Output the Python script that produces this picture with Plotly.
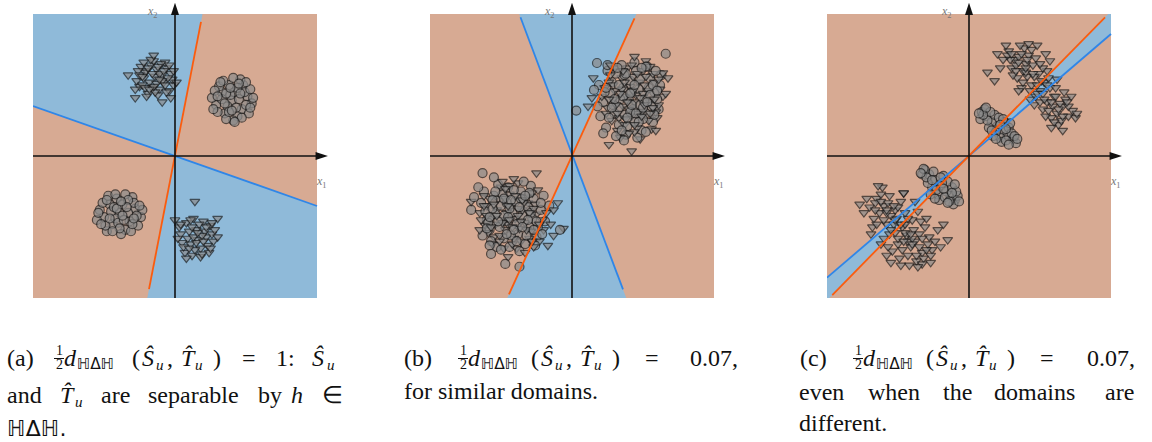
import plotly.graph_objects as go

W, H = 1152, 442

# ---------------- data (each feature box spans [-100, 100] on both axes) ----------------
# (a) four well separated groups
A_TRI_UL = [(-14,56),(-20,60),(-8,52),(-25,49),(-3,58),(-17,64),(-11,47),(-22,55),(-6,62),(-15,67),
            (-27,53),(-1,50),(-19,44),(-9,57),(-13,61),(-24,63),(-4,46),(-18,52),(-12,43),(-21,59),
            (-7,66),(-16,48),(-26,60),(-2,54),(-10,65),(-23,50),(-14,45),(-5,55),(-20,42),(-11,58),
            (-17,68),(-8,60),(-25,57),(-13,51),(-19,62),(-6,45),(-15,49),(-22,66),(-9,53),(-12,63),
            (-28,47),(-33,57),(-15,71),(-9,38),(-3,41),(-28,41),(1,52),(-16,58),(-4,64),(-21,48),
            (-11,54),(-18,47),(-7,50),(-23,56),(-1,60)]
A_CIR_UR = [(40,39),(33,45),(47,33),(29,36),(51,42),(38,50),(44,28),(35,30),(54,37),(31,49),
            (42,45),(48,50),(26,41),(37,35),(45,40),(52,30),(34,53),(41,25),(49,45),(30,31),
            (39,43),(46,54),(28,46),(53,47),(36,26),(43,34),(50,36),(33,40),(41,55),(47,27),
            (27,33),(38,31),(55,41),(32,52),(44,48),(36,44),(50,52),(40,32),(30,42),(46,44),
            (35,37),(42,24),(53,34),(39,48),(45,51)]
A_CIR_LL = [(-39,-40),(-46,-34),(-32,-46),(-50,-43),(-28,-37),(-41,-30),(-35,-52),(-53,-38),(-24,-43),(-44,-48),
            (-37,-34),(-30,-29),(-48,-53),(-42,-44),(-26,-49),(-55,-45),(-33,-40),(-47,-28),(-38,-55),(-29,-33),
            (-51,-33),(-40,-47),(-23,-38),(-45,-39),(-35,-27),(-31,-53),(-49,-49),(-43,-36),(-36,-45),(-27,-42),
            (-54,-40),(-39,-51),(-33,-31),(-46,-44),(-41,-37),(-30,-48),(-48,-31),(-37,-42),(-44,-53),(-25,-35),
            (-34,-36),(-42,-27),(-52,-48),(-38,-32),(-29,-44)]
A_TRI_LR = [(15,-52),(8,-47),(22,-57),(11,-62),(25,-49),(4,-55),(18,-65),(13,-44),(27,-60),(7,-68),
            (20,-46),(10,-53),(24,-68),(16,-59),(5,-61),(21,-53),(12,-70),(26,-55),(9,-58),(17,-48),
            (3,-50),(23,-63),(14,-66),(19,-56),(6,-64),(28,-52),(11,-45),(15,-61),(22,-50),(8,-72),
            (18,-71),(13,-57),(25,-65),(4,-48),(20,-60),(10,-65),(16,-54),(14,-32),(0,-45),(30,-44),
            (30,-57),(2,-58),(19,-69),(12,-50),(26,-47)]

# (b) two mixed groups
B_UR_CIR = [(40,40),(28,52),(52,30),(33,22),(58,45),(45,60),(22,38),(36,48),(49,18),(61,33),
            (30,30),(43,33),(55,55),(25,60),(38,15),(47,47),(20,28),(62,50),(34,40),(51,40),
            (27,44),(44,24),(57,24),(31,58),(41,53),(53,63),(24,20),(37,29),(48,54),(60,40),
            (29,36),(46,13),(35,64),(56,35),(42,45),(19,50),(50,26),(33,34),(63,57),(39,21),
            (26,27),(54,48),(44,66),(31,14),(58,29),(37,57),(48,36),(23,45),(52,17),(41,31),
            (3,32),(17.6,65.5),(66,72),(36.6,11),(22,16),(15.5,46.5),(25,64),(52,63),(59,60),(18,35),
            (36,42),(44,50),(50,34),(30,40),(42,36),(55,43),(38,58),(47,24),(33,50),(53,38),
            (28,34),(45,30),(39,27),(57,50),(24,48),(49,62),(35,18),(60,46),(41,44),(32,62)]
B_UR_TRI = [(38,42),(47,52),(30,46),(55,38),(42,28),(25,34),(50,60),(35,55),(60,27),(44,38),
            (28,25),(53,46),(39,62),(58,52),(32,18),(46,20),(21,42),(64,42),(36,35),(49,31),
            (26,52),(41,49),(56,19),(33,27),(52,67),(45,43),(24,30),(61,36),(37,22),(30,62),
            (48,12),(43,56),(57,58),(29,40),(40,33),(54,25),(35,47),(62,47),(27,57),(46,30),
            (34,13),(51,50),(23,48),(59,31),(42,64),(38,26),(50,44),(31,36),(55,63),(44,17),
            (67.6,55),(64,58.5),(42,3.5),(59,18),(11.3,35),(15,55),(44,70),(66,44),(14,41),(26,8),
            (43,46),(34,44),(51,36),(29,50),(46,58),(39,38),(55,30),(26,40),(48,41),(36,60),
            (58,40),(32,30),(44,22),(52,56),(40,16),(61,54),(27,64),(37,52),(49,28),(57,34)]
B_LL_CIR = [(-42,-40),(-55,-28),(-30,-50),(-60,-45),(-36,-25),(-48,-58),(-22,-38),(-50,-35),(-38,-55),(-64,-33),
            (-27,-30),(-45,-22),(-33,-62),(-58,-52),(-19,-46),(-40,-32),(-52,-20),(-25,-57),(-47,-46),(-35,-42),
            (-62,-25),(-29,-21),(-44,-64),(-54,-41),(-20,-28),(-39,-48),(-57,-60),(-31,-36),(-49,-27),(-24,-50),
            (-43,-56),(-61,-39),(-34,-18),(-51,-50),(-28,-44),(-46,-33),(-37,-67),(-16,-35),(-56,-31),(-41,-24),
            (-32,-56),(-53,-64),(-26,-63),(-59,-47),(-44,-37),(-21,-55),(-48,-42),(-36,-30),(-63,-56),(-30,-26),
            (-63,-12),(-55,-15),(-71,-38),(-66,-22),(-58,-63),(-57,-69),(-47,-76),(-37,-78),(-8.5,-52),(-69,-29),
            (-45,-43),(-37,-36),(-52,-46),(-29,-40),(-41,-52),(-56,-37),(-33,-28),(-48,-30),(-25,-46),(-60,-51),
            (-39,-60),(-46,-55),(-31,-45),(-54,-25),(-43,-31),(-22,-33),(-50,-66),(-35,-50),(-58,-43),(-27,-52)]
B_LL_TRI = [(-40,-44),(-53,-38),(-31,-33),(-47,-52),(-25,-41),(-58,-30),(-36,-60),(-44,-27),(-61,-49),(-20,-52),
            (-50,-22),(-33,-47),(-55,-57),(-28,-26),(-43,-35),(-38,-19),(-65,-40),(-23,-60),(-48,-65),(-35,-38),
            (-57,-44),(-30,-58),(-45,-48),(-18,-40),(-52,-30),(-41,-58),(-26,-34),(-60,-35),(-37,-51),(-49,-18),
            (-32,-29),(-54,-48),(-21,-45),(-46,-40),(-39,-65),(-62,-28),(-29,-53),(-44,-21),(-56,-62),(-34,-33),
            (-24,-24),(-51,-56),(-42,-50),(-15,-48),(-59,-54),(-33,-68),(-47,-30),(-27,-64),(-38,-37),(-64,-45),
            (-25,-12),(-10,-33),(-6,-51),(-13,-56),(-45,-71),(-71,-32),(-65,-52),(-17,-63),(-41,-16),(-13,-38),
            (-38,-42),(-49,-47),(-35,-31),(-44,-45),(-27,-37),(-55,-34),(-42,-62),(-32,-52),(-60,-42),(-47,-23),
            (-30,-40),(-51,-60),(-40,-28),(-57,-50),(-23,-48),(-45,-35),(-36,-46),(-62,-35),(-28,-60),(-53,-42)]

# (c) groups of different shape lying along the diagonal
C_TRI_UR = [(44,50),(32,68),(55,38),(38,60),(62,30),(28,74),(50,46),(41,56),(58,27),(35,70),
            (47,42),(66,35),(30,62),(53,52),(39,76),(60,42),(45,64),(70,28),(34,55),(57,48),
            (26,78),(49,58),(63,22),(37,48),(52,33),(42,71),(68,40),(31,57),(55,60),(46,36),
            (73,32),(40,65),(59,35),(36,78),(51,53),(65,25),(29,68),(48,44),(61,48),(44,75),
            (54,28),(38,52),(67,45),(33,64),(56,55),(75,27),(43,40),(58,20),(47,69),(64,37),
            (27,71),(52,62),(70,35),(40,59),(60,24),(35,46),(50,38),(72,42),(42,79),(62,54),
            (13,59),(18,53),(22,62),(24,68),(76,30),(66,18),(54,72),(48,78),(57,67),(20,72),
            (46,56),(52,44),(40,62),(58,38),(35,66),(63,33),(48,50),(43,46),(55,50),(37,72),
            (66,28),(50,65),(30,72),(61,42),(45,58),(56,32),(41,68),(69,38),(53,40),(33,60)]
C_CIR_UR = [(20,21),(12,28),(27,15),(16,24),(24,18),(9,31),(31,12),(18,29),(22,13),(14,20),
            (28,20),(11,33),(33,9),(19,17),(25,24),(8,26),(30,16),(15,31),(23,10),(17,14),
            (26,11),(13,25),(29,23),(21,27),(10,29),(32,14),(16,18),(24,26),(19,12),(28,8),
            (12,34),(34,12),(22,22),(7,30),(26,19)]
C_CIR_LL = [(-20,-21),(-28,-13),(-13,-28),(-24,-17),(-16,-25),(-31,-10),(-10,-31),(-22,-27),(-18,-14),(-26,-22),
            (-12,-22),(-33,-13),(-8,-28),(-21,-31),(-15,-18),(-29,-19),(-11,-34),(-25,-11),(-17,-29),(-23,-24),
            (-14,-32),(-30,-15),(-9,-25),(-19,-19),(-27,-27),(-12,-26),(-32,-9),(-7,-32),(-24,-30),(-18,-23),
            (-20,-15),(-34,-12),(-10,-20),(-26,-17),(-15,-33)]
C_TRI_LL = [(-47,-50),(-60,-35),(-38,-60),(-55,-42),(-33,-68),(-65,-30),(-44,-56),(-52,-38),(-29,-62),(-58,-48),
            (-40,-45),(-70,-36),(-35,-55),(-50,-62),(-62,-27),(-43,-70),(-56,-55),(-31,-50),(-48,-32),(-67,-44),
            (-37,-74),(-53,-48),(-26,-66),(-45,-40),(-60,-58),(-41,-64),(-72,-30),(-34,-46),(-57,-33),(-49,-72),
            (-28,-57),(-63,-40),(-39,-52),(-54,-67),(-46,-26),(-68,-50),(-32,-72),(-51,-44),(-43,-60),(-61,-22),
            (-36,-39),(-55,-75),(-24,-60),(-58,-40),(-47,-66),(-66,-33),(-30,-44),(-42,-77),(-52,-54),(-38,-32),
            (-74,-40),(-45,-48),(-27,-70),(-62,-62),(-40,-58),(-56,-28),(-33,-76),(-50,-36),(-22,-52),(-15,-59),
            (-27,-75),(-46,-26),(-64,-21),(-77,-34),(-20,-64),(-69,-55),(-58,-70),(-48,-77),(-36,-78),(-18,-48),
            (-45,-54),(-52,-45),(-40,-62),(-58,-38),(-35,-64),(-62,-32),(-48,-48),(-43,-44),(-55,-52),(-37,-70),
            (-66,-38),(-50,-58),(-30,-66),(-60,-45),(-46,-60),(-53,-35),(-41,-55),(-65,-48),(-33,-58),(-57,-64)]

# Two linear hypotheses per panel (segment endpoints, oriented so that the
# disagreement region is where their signs differ)
A_ORANGE = [(18.3, 94.4), (-18.3, -93.7)]
A_BLUE = [(-100, 35.2), (100, -35.2)]
B_ORANGE = [(44.0, 97.0), (-44.4, -97.4)]
B_BLUE = [(-36.3, 97.7), (35.9, -93.9)]
C_ORANGE = [(-96.3, -97.9), (95.8, 97.7)]
C_BLUE = [(-100, -85.7), (100, 85.9)]

# ---------------- styling ----------------
TAN = "#d7aa93"
SKY = "#8fbad9"
ORANGE = "#fb5c0e"
BLUE = "#2f86e8"
PT_FILL = "#8b8b8b"
PT_EDGE = "#1e1e1e"
SERIF = "Liberation Serif"
DS = "DejaVu Sans"

PANEL_LEFT = [33, 430, 827]   # pixel column of x = -100
PX = 1.42                     # pixels per data unit
X_RANGE = [-100, 110]
Y_RANGE = [-100, 109]
BOX = [(-100, -100), (100, -100), (100, 100), (-100, 100)]


def clip(poly, line, keep_positive):
    (px, py), (qx, qy) = line
    def side(r):
        s = (qx - px) * (r[1] - py) - (qy - py) * (r[0] - px)
        return s if keep_positive else -s
    out = []
    n = len(poly)
    for i in range(n):
        a, b = poly[i], poly[(i + 1) % n]
        sa, sb = side(a), side(b)
        if sa >= 0:
            out.append(a)
        if (sa >= 0) != (sb >= 0):
            t = sa / (sa - sb)
            out.append((a[0] + t * (b[0] - a[0]), a[1] + t * (b[1] - a[1])))
    return out


def disagreement(l1, l2):
    return [clip(clip(BOX, l1, True), l2, False), clip(clip(BOX, l1, False), l2, True)]


fig = go.Figure()

panels = [
    dict(orange=A_ORANGE, blue=A_BLUE,
         groups=[(A_TRI_UL, "triangle-down"), (A_CIR_UR, "circle"),
                 (A_CIR_LL, "circle"), (A_TRI_LR, "triangle-down")]),
    dict(orange=B_ORANGE, blue=B_BLUE,
         groups=[(B_UR_CIR, B_UR_TRI), (B_LL_CIR, B_LL_TRI)]),
    dict(orange=C_ORANGE, blue=C_BLUE,
         groups=[(C_TRI_UR, "triangle-down"), (C_CIR_UR, "circle"),
                 (C_CIR_LL, "circle"), (C_TRI_LL, "triangle-down")]),
]

SIZES = {"circle": 9, "triangle-down": 8.5}

for i, p in enumerate(panels):
    xa = "x" if i == 0 else f"x{i+1}"
    ya = "y" if i == 0 else f"y{i+1}"

    bx = [c[0] for c in BOX] + [BOX[0][0]]
    by = [c[1] for c in BOX] + [BOX[0][1]]
    fig.add_trace(go.Scatter(x=bx, y=by, mode="lines", fill="toself", fillcolor=TAN,
                             line=dict(width=0), hoverinfo="skip", xaxis=xa, yaxis=ya))
    for poly in disagreement(p["blue"], p["orange"]):
        if len(poly) < 3:
            continue
        fig.add_trace(go.Scatter(x=[c[0] for c in poly] + [poly[0][0]],
                                 y=[c[1] for c in poly] + [poly[0][1]],
                                 mode="lines", fill="toself", fillcolor=SKY,
                                 line=dict(width=0), hoverinfo="skip", xaxis=xa, yaxis=ya))

    for g in p["groups"]:
        if isinstance(g[1], str):
            pts, sym = g
            syms = [sym] * len(pts)
        else:
            cir, tri = g
            pts, syms = [], []
            for k in range(max(len(cir), len(tri))):
                if k < len(cir):
                    pts.append(cir[k]); syms.append("circle")
                if k < len(tri):
                    pts.append(tri[k]); syms.append("triangle-down")
        sizes = [SIZES[s] for s in syms]
        fig.add_trace(go.Scatter(
            x=[q[0] for q in pts], y=[q[1] for q in pts], mode="markers",
            marker=dict(symbol=syms, size=sizes, color=PT_FILL,
                        line=dict(color=PT_EDGE, width=1.2)),
            hoverinfo="skip", xaxis=xa, yaxis=ya))

    for seg, col in ((p["blue"], BLUE), (p["orange"], ORANGE)):
        fig.add_trace(go.Scatter(x=[seg[0][0], seg[1][0]], y=[seg[0][1], seg[1][1]],
                                 mode="lines", line=dict(color=col, width=1.8),
                                 hoverinfo="skip", xaxis=xa, yaxis=ya))

    # coordinate axes with arrow tips
    fig.add_trace(go.Scatter(x=[-100, 104], y=[0, 0], mode="lines",
                             line=dict(color="#111111", width=1.6), hoverinfo="skip",
                             xaxis=xa, yaxis=ya))
    fig.add_trace(go.Scatter(x=[0, 0], y=[-100, 104], mode="lines",
                             line=dict(color="#111111", width=1.6), hoverinfo="skip",
                             xaxis=xa, yaxis=ya))
    fig.add_trace(go.Scatter(x=[107.7, 0], y=[0, 108], mode="markers",
                             marker=dict(symbol="arrow", size=13, angle=[90, 0],
                                         color="#111111", line=dict(width=0)),
                             hoverinfo="skip", xaxis=xa, yaxis=ya))

    fig.add_annotation(x=-16, y=101.5, xref=xa, yref=ya, showarrow=False,
                       text="<i>x</i><sub>2</sub>", font=dict(family=SERIF, size=12, color="#777777"))
    fig.add_annotation(x=103.5, y=-18.5, xref=xa, yref=ya, showarrow=False,
                       text="<i>x</i><sub>1</sub>", font=dict(family=SERIF, size=12, color="#777777"))

    left = PANEL_LEFT[i]
    right = left + (X_RANGE[1] - X_RANGE[0]) * PX
    bottom = 298
    top = bottom - (Y_RANGE[1] - Y_RANGE[0]) * PX
    fig.layout[f"xaxis{'' if i == 0 else i+1}"] = dict(
        domain=[left / W, right / W], range=X_RANGE, visible=False, fixedrange=True,
        anchor=ya)
    fig.layout[f"yaxis{'' if i == 0 else i+1}"] = dict(
        domain=[(H - bottom) / H, (H - top) / H], range=Y_RANGE, visible=False,
        fixedrange=True, anchor=xa)

# ---------------- captions ----------------
MAIN, SUB, FRAC = 24, 15, 14


def math_head(x0, paren):
    # "½ d_{HΔH}(Ŝ_u, T̂_u)" laid out from the fraction position and the "(" position
    return [("1", x0 + 2, 355, FRAC, SERIF), ("2", x0 + 2, 369, FRAC, SERIF),
            ("<i>d</i>", x0 + 10, 365, MAIN, SERIF), ("ℍΔℍ", x0 + 23, 369, 15.5, DS),
            ("(", paren, 365, MAIN, SERIF), ("<i>Ŝ</i>", paren + 10, 365, MAIN, SERIF),
            ("<i>u</i>", paren + 24, 369, SUB, SERIF), (",", paren + 35, 365, MAIN, SERIF),
            ("<i>T̂</i>", paren + 49, 365, MAIN, SERIF), ("<i>u</i>", paren + 63, 369, SUB, SERIF),
            (")", paren + 81, 365, MAIN, SERIF)]


def words(items, base):
    return [(t, x, base, MAIN, SERIF) for t, x in items]


CAPTIONS = (
    [("(a)", 6, 365, MAIN, SERIF)] + math_head(53, 131) +
    words([("=", 241), ("1:", 275)], 365) +
    [("<i>Ŝ</i>", 311, 365, MAIN, SERIF), ("<i>u</i>", 326, 369, SUB, SERIF)] +
    words([("and", 6)], 402) +
    [("<i>T̂</i>", 59, 402, MAIN, SERIF), ("<i>u</i>", 74, 406, SUB, SERIF)] +
    words([("are", 100), ("separable", 147), ("by", 257), ("<i>h</i>", 290), ("∈", 321)], 402) +
    [("ℍΔℍ.", 6, 435, 22, DS)] +
    [("(b)", 403, 365, MAIN, SERIF)] + math_head(457, 530) +
    words([("=", 644), ("0.07,", 689)], 365) +
    words([("for similar domains.", 403)], 398) +
    [("(c)", 799, 365, MAIN, SERIF)] + math_head(852, 925) +
    words([("=", 1039), ("0.07,", 1086)], 365) +
    words([("even", 798), ("when", 867), ("the", 942), ("domains", 993), ("are", 1104)], 399) +
    words([("different.", 798)], 430)
)

for txt, x, base, size, fam in CAPTIONS:
    fig.add_annotation(text=txt, x=x / W, y=1 - (base - 0.3 * size) / H,
                       xref="paper", yref="paper", xanchor="left", yanchor="middle",
                       showarrow=False, borderpad=0,
                       font=dict(family=fam, size=size, color="#111111"))

for x0 in (53, 457, 852):
    fig.add_shape(type="line", xref="paper", yref="paper",
                  x0=(x0 + 1) / W, x1=(x0 + 11) / W, y0=1 - 358.5 / H, y1=1 - 358.5 / H,
                  line=dict(color="#111111", width=1))

fig.update_layout(width=W, height=H, margin=dict(l=0, r=0, t=0, b=0),
                  paper_bgcolor="white", plot_bgcolor="rgba(0,0,0,0)", showlegend=False)

fig.write_html("out.html")
